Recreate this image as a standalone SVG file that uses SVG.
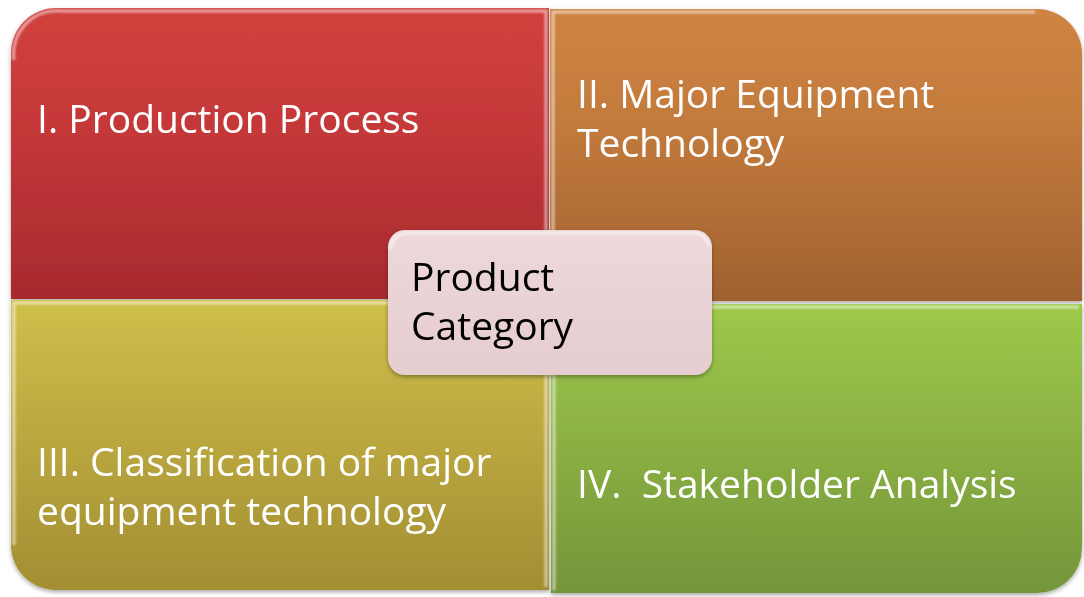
<svg xmlns="http://www.w3.org/2000/svg" width="1084" height="597" viewBox="0 0 1084 597">
<defs>
<linearGradient id="gRed" x1="0" y1="0" x2="0" y2="1"><stop offset="0" stop-color="#D2413E"/><stop offset="0.4" stop-color="#C53839"/><stop offset="1" stop-color="#A72A2E"/></linearGradient>
<linearGradient id="gOrange" x1="0" y1="0" x2="0" y2="1"><stop offset="0" stop-color="#CF8443"/><stop offset="0.4" stop-color="#C27A3C"/><stop offset="1" stop-color="#A1612F"/></linearGradient>
<linearGradient id="gYellow" x1="0" y1="0" x2="0" y2="1"><stop offset="0" stop-color="#CFBF4A"/><stop offset="1" stop-color="#A38E33"/></linearGradient>
<linearGradient id="gGreen" x1="0" y1="0" x2="0" y2="1"><stop offset="0" stop-color="#9EC94B"/><stop offset="1" stop-color="#75953A"/></linearGradient>
<linearGradient id="gPink" x1="0" y1="0" x2="0" y2="1"><stop offset="0" stop-color="#EDD8D9"/><stop offset="1" stop-color="#E6CDCF"/></linearGradient>
<filter id="sh" x="-5%" y="-5%" width="110%" height="115%"><feDropShadow dx="0" dy="2" stdDeviation="2" flood-color="#000" flood-opacity="0.35"/></filter>
<filter id="blur1"><feGaussianBlur stdDeviation="1.2"/></filter>
</defs>
<style>
.q{stroke:none}
.t{font-family:"Open Sans","Liberation Sans",sans-serif;font-size:39px;fill:#ffffff}
.c{font-family:"Open Sans","Liberation Sans",sans-serif;font-size:39px;fill:#000000}
.hl{fill:none;stroke:#ffffff;stroke-opacity:0.55;stroke-width:3;filter:url(#blur1)}
</style>
<g id="q1" filter="url(#sh)">
<path class="q" fill="url(#gRed)" d="M11,53 A45,45 0 0 1 56,8 L549,8 L549,299 L11,299 Z"/>
<path class="hl" d="M14,60 A43,43 0 0 1 60,11 L546,11 L546,296"/>
<text class="t" x="37" y="133">I. Production Process</text>
</g>
<g id="q2" filter="url(#sh)">
<path class="q" fill="url(#gOrange)" d="M550,9 L1037,9 A45,45 0 0 1 1082,54 L1082,301 L550,301 Z"/>
<path class="hl" d="M553,298 L553,12 L1035,12"/>
<text class="t" x="577" y="108">II. Major Equipment</text>
<text class="t" x="577" y="157">Technology</text>
</g>
<g id="q3" filter="url(#sh)">
<path class="q" fill="url(#gYellow)" d="M11,300 L549,300 L549,590 L56,590 A45,45 0 0 1 11,545 Z"/>
<path class="hl" d="M14,545 L14,303 L546,303 L546,587"/>
<text class="t" x="37" y="476">III. Classification of major</text>
<text class="t" x="37" y="525">equipment technology</text>
</g>
<g id="q4" filter="url(#sh)">
<path class="q" fill="url(#gGreen)" d="M551,304 L1082,304 L1082,548 A45,45 0 0 1 1037,593 L551,593 Z"/>
<path class="hl" d="M554,590 L554,307 L1079,307"/>
<text class="t" x="577" y="498" xml:space="preserve">IV.  Stakeholder Analysis</text>
</g>
<g id="center" filter="url(#sh)">
<rect x="388" y="230" width="324" height="145" rx="17" fill="url(#gPink)"/>
<path class="hl" stroke-opacity="0.9" d="M391,250 A16,16 0 0 1 405,233 L695,233 A16,16 0 0 1 709,247"/>
<text class="c" x="411" y="291">Product</text>
<text class="c" x="411" y="340">Category</text>
</g>
<g id="connectors"/>
</svg>
